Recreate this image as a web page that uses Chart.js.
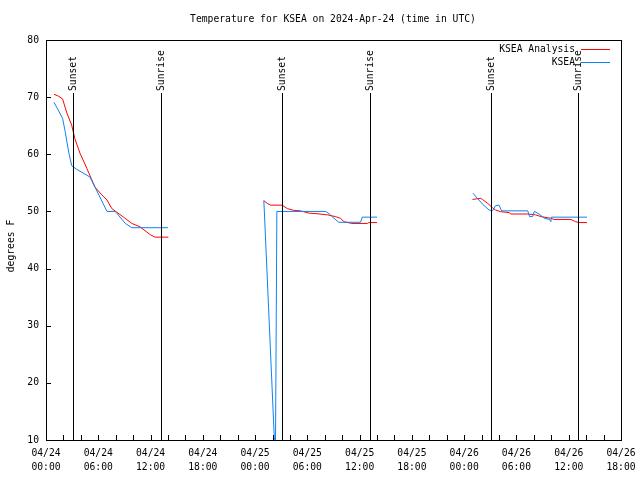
<!DOCTYPE html>
<html>
<head>
<meta charset="utf-8">
<script src="https://cdn.jsdelivr.net/npm/chart.js@4.4.1/dist/chart.umd.min.js"></script>
<style>
  html, body { margin: 0; padding: 0; background: #fff; }
</style>
</head>
<body>
<canvas id="tempChart" width="640" height="480"></canvas>
<script>
// hours since 04/24 00:00 UTC, null temp = gap between days
const analysisHours = [0.92, 1.4, 1.9, 2.4, 2.95, 3.3, 3.9, 4.7, 5.6, 6.4, 7.0, 7.55, 8.1, 8.9, 9.85, 10.8, 12.0, 12.5, 14.05,
    20,
    25.0, 25.4, 25.8, 26.3, 27.1, 27.7, 28.4, 29.2, 30.2, 31.1, 32.3, 33.2, 33.8, 34.2, 35.1, 36.9, 37.05, 38.0,
    44,
    48.95, 49.9, 50.1, 50.7, 51.25, 51.6, 52.2, 53.15, 53.35, 55.3, 56.2, 56.8, 57.95, 58.3, 60.25, 60.8, 61.2, 62.1];
const analysisTemps = [70.5, 70.2, 69.7, 67.2, 65.1, 62.8, 60.2, 57.5, 54.3, 52.9, 52.0, 50.5, 49.9, 49.0, 47.9, 47.3, 45.9, 45.5, 45.5,
    null,
    51.9, 51.4, 51.1, 51.1, 51.1, 50.5, 50.2, 50.1, 49.7, 49.6, 49.4, 49.1, 48.8, 48.2, 47.9, 47.9, 48.05, 48.05,
    null,
    52.1, 52.3, 52.1, 51.4, 50.65, 50.25, 49.95, 49.8, 49.55, 49.55, 49.4, 49.1, 48.8, 48.6, 48.6, 48.2, 48.05, 48.05];

const obsHours = [0.92, 1.9, 2.2, 2.6, 2.95, 3.5, 5.06, 7.0, 7.95, 9.1, 9.85, 14.0,
    20,
    25.0, 25.05, 26.33, 26.5, 32.1, 32.5, 32.9, 33.6, 36.1, 36.3, 38.0,
    44,
    49.0, 49.5, 50.1, 50.85, 51.25, 51.6, 52.0, 52.3, 55.3, 55.5, 55.85, 56.05, 56.6, 57.2, 57.8, 57.95, 58.0, 62.1];
const obsTemps = [69.1, 66.3, 64.0, 60.4, 58.0, 57.4, 56.0, 50.0, 50.0, 47.9, 47.15, 47.15,
    null,
    51.9, 50.4, 6, 50.0, 50.0, 49.6, 49.0, 48.1, 48.1, 49.0, 49.0,
    null,
    53.2, 52.3, 51.3, 50.25, 50.1, 51.0, 51.1, 50.1, 50.1, 49.1, 49.1, 50.0, 49.55, 48.8, 48.6, 48.2, 49.0, 49.0];

const sunsetHours = [3.13, 27.1, 51.1];
const sunriseHours = [13.22, 37.19, 61.1];

const dayLabels = ['04/24', '04/25', '04/26'];
const yTicks = [10, 20, 30, 40, 50, 60, 70, 80];

const FONT = '"DejaVu Sans Mono", monospace';
const RED = '#ff0000';
const BLUE = '#1080f0';

function toPoints(hours, temps) {
    return hours.map((h, i) => ({ x: h, y: temps[i] }));
}

function hourLabel(v) {
    const day = dayLabels[Math.floor(v / 24)] || '04/27';
    const hh = String(v % 24).padStart(2, '0');
    return [day, hh + ':00'];
}

// keep the plot box fixed, whatever the label widths are
function fixScale(size) {
    return s => {
        if (s.isHorizontal()) s.height = size; else s.width = size;
        s.paddingLeft = 0;
        s.paddingRight = 0;
        s.paddingTop = 0;
        s.paddingBottom = 0;
    };
}

const gnuplotDecor = {
    id: 'gnuplotDecor',
    afterDraw(chart) {
        const ctx = chart.ctx;
        const area = chart.chartArea;
        const xs = chart.scales.x;
        const ys = chart.scales.y;
        ctx.save();
        ctx.strokeStyle = '#000';
        ctx.lineWidth = 1;

        // frame
        ctx.strokeRect(Math.round(area.left) + 0.5, Math.round(area.top) + 0.5,
            Math.round(area.right - area.left), Math.round(area.bottom - area.top));

        // inward tick marks
        ctx.beginPath();
        xs.ticks.forEach(t => {
            const px = Math.round(xs.getPixelForValue(t.value)) + 0.5;
            ctx.moveTo(px, area.bottom);
            ctx.lineTo(px, area.bottom - 5);
        });
        yTicks.forEach(v => {
            const py = Math.round(ys.getPixelForValue(v)) + 0.5;
            ctx.moveTo(area.left, py);
            ctx.lineTo(area.left + 5, py);
        });
        ctx.stroke();

        // sunset / sunrise markers
        ctx.font = '9.7px ' + FONT;
        ctx.fillStyle = '#000';
        const marker = (h, label) => {
            const px = Math.round(xs.getPixelForValue(h)) + 0.5;
            ctx.beginPath();
            ctx.moveTo(px, area.bottom);
            ctx.lineTo(px, 93);
            ctx.stroke();
            ctx.save();
            ctx.translate(px, 91);
            ctx.rotate(-Math.PI / 2);
            ctx.textAlign = 'left';
            ctx.textBaseline = 'middle';
            ctx.fillText(label, 0, 0);
            ctx.restore();
        };
        sunsetHours.forEach(h => marker(h, 'Sunset'));
        sunriseHours.forEach(h => marker(h, 'Sunrise'));

        // legend
        ctx.textAlign = 'right';
        ctx.textBaseline = 'middle';
        ctx.fillText('KSEA Analysis', 575, 49);
        ctx.fillText('KSEA', 575, 62);
        ctx.beginPath();
        ctx.strokeStyle = RED;
        ctx.moveTo(581, 49.5);
        ctx.lineTo(610, 49.5);
        ctx.stroke();
        ctx.beginPath();
        ctx.strokeStyle = BLUE;
        ctx.moveTo(581, 62.5);
        ctx.lineTo(610, 62.5);
        ctx.stroke();

        // title and y axis title
        ctx.textAlign = 'center';
        ctx.fillText('Temperature for KSEA on 2024-Apr-24 (time in UTC)', 333, 19);
        ctx.save();
        ctx.translate(11, 246);
        ctx.rotate(-Math.PI / 2);
        ctx.fillText('degrees F', 0, 0);
        ctx.restore();

        ctx.restore();
    }
};

const ctx = document.getElementById('tempChart').getContext('2d');
const tempChart = new Chart(ctx, {
    type: 'line',
    data: {
        datasets: [
            {
                label: 'KSEA Analysis',
                data: toPoints(analysisHours, analysisTemps),
                borderColor: RED,
                borderWidth: 1,
                pointRadius: 0,
                tension: 0,
                spanGaps: false,
                order: 1
            },
            {
                label: 'KSEA',
                data: toPoints(obsHours, obsTemps),
                borderColor: BLUE,
                borderWidth: 1,
                pointRadius: 0,
                tension: 0,
                spanGaps: false,
                order: 0
            }
        ]
    },
    options: {
        responsive: false,
        animation: false,
        events: [],
        layout: { padding: { top: 40, right: 19, left: 0, bottom: 0 } },
        plugins: {
            legend: { display: false },
            title: { display: false },
            tooltip: { enabled: false }
        },
        scales: {
            x: {
                type: 'linear',
                min: 0,
                max: 66,
                grid: { display: false, drawTicks: false },
                border: { display: false },
                afterFit: fixScale(40),
                ticks: {
                    stepSize: 2,
                    autoSkip: false,
                    maxRotation: 0,
                    padding: 7,
                    color: '#000',
                    font: { family: FONT, size: 9.7, lineHeight: 1.4 },
                    callback: v => (v % 6 === 0 ? hourLabel(v) : '')
                }
            },
            y: {
                min: 10,
                max: 80,
                grid: { display: false, drawTicks: false },
                border: { display: false },
                afterFit: fixScale(46),
                ticks: {
                    stepSize: 10,
                    padding: 7,
                    color: '#000',
                    font: { family: FONT, size: 9.7 }
                }
            }
        }
    },
    plugins: [gnuplotDecor]
});
</script>
</body>
</html>
